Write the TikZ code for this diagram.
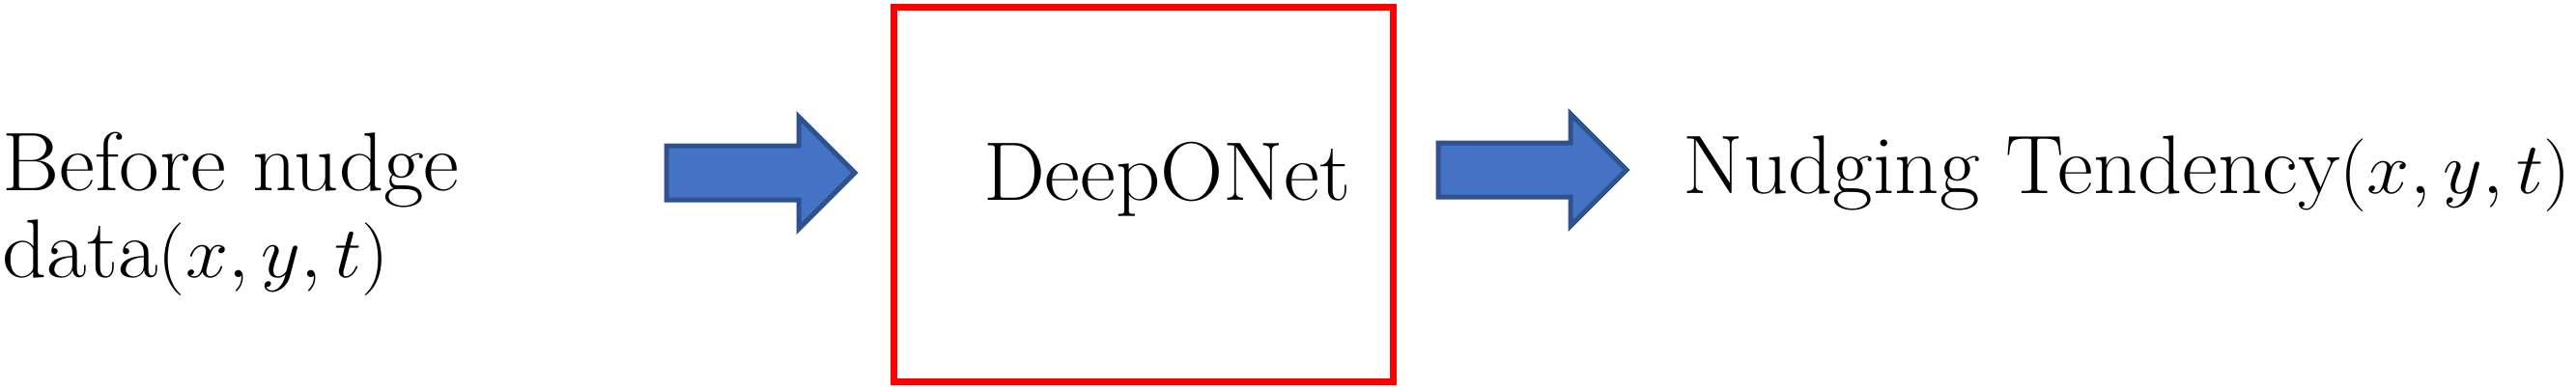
\RequirePackage{fix-cm}
\documentclass[tikz,border=0pt]{standalone}
\usepackage{amsmath,amssymb}
\usepackage{xcolor}
\usepackage{tikz}
\usetikzlibrary{shapes.arrows,positioning}

\DeclareMathSizes{24.5}{21.5}{15}{12}
\definecolor{arrowfill}{HTML}{4472C4}
\definecolor{arrowedge}{HTML}{2F528F}

\begin{document}
\begin{tikzpicture}[
  txt/.style={inner sep=0pt, xscale=1.05, transform shape, font=\fontsize{24.5}{25.5}\selectfont},
  netbox/.style={rectangle, draw=red, line width=0.07cm, inner sep=0pt, minimum width=5.17cm, minimum height=3.885cm},
  blockarrow/.style={single arrow, draw=arrowedge, fill=arrowfill, line width=0.05cm, inner xsep=0pt, inner ysep=0.255cm, single arrow head extend=0.3cm, minimum height=1.95cm, anchor=tail}
]
\useasboundingbox (0,0) rectangle (26.67,4.03);

\node[txt, align=left, anchor=base west] (input) at (0.02,1.16) {Before nudge\\data$(x,y,t)$};
\node[blockarrow] (arrowin) at (6.875,2.24) {};
\node[netbox] (net) at (11.84,2.0175) {};
\node[txt, anchor=base] (netlabel) at (12.08,1.96) {DeepONet};
\node[blockarrow] (arrowout) at (14.865,2.27) {};
\node[txt, anchor=base west] (output) at (17.42,2.03) {Nudging Tendency$(x,y,t)$};

\end{tikzpicture}
\end{document}
